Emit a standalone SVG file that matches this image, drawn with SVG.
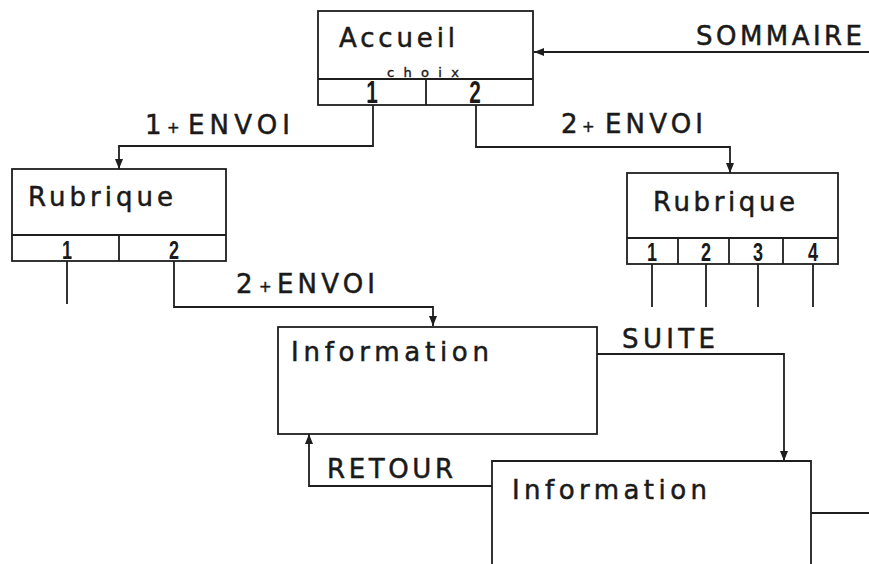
<svg xmlns="http://www.w3.org/2000/svg" width="869" height="564" viewBox="0 0 869 564">
<style>
.box{fill:none;stroke:#1e1e1e;stroke-width:1.8}
.ln{fill:none;stroke:#1e1e1e;stroke-width:1.8}
.t{font-family:"DejaVu Sans","Liberation Sans",sans-serif;font-size:26px;fill:#1a1a1a;stroke:#1a1a1a;stroke-width:0.5}
.d{font-family:"Liberation Sans",Arial,sans-serif;font-weight:bold;fill:#1a1a1a;text-anchor:middle}
.s{font-family:"DejaVu Sans","Liberation Sans",sans-serif;font-size:13px;fill:#1a1a1a;stroke:#1a1a1a;stroke-width:0.4}
.p{font-size:15px}
</style>
<defs>
<marker id="ah" markerUnits="userSpaceOnUse" markerWidth="10" markerHeight="8" refX="10" refY="4" orient="auto">
<path d="M0,0 L10,4 L0,8 z" fill="#1e1e1e"/>
</marker>
</defs>
<rect width="869" height="564" fill="#ffffff"/>

<g id="connectors">
<path class="ln" d="M869,52 H534" marker-end="url(#ah)"/>
<path class="ln" d="M373,105 V146 H119 V169" marker-end="url(#ah)"/>
<path class="ln" d="M476,105 V147 H730 V173" marker-end="url(#ah)"/>
<path class="ln" d="M67,261 V304"/>
<path class="ln" d="M174,261 V307 H433 V326" marker-end="url(#ah)"/>
<path class="ln" d="M652,264 V307 M706,264 V307 M758,264 V307 M813,264 V307"/>
<path class="ln" d="M597,354 H784 V461" marker-end="url(#ah)"/>
<path class="ln" d="M492,486 H309 V434" marker-end="url(#ah)"/>
<path class="ln" d="M811,513 H869"/>
<text class="t" x="696" y="45" textLength="166" lengthAdjust="spacing">SOMMAIRE</text>
<text class="t" x="145" y="134"><tspan>1</tspan><tspan class="p" x="167" y="133">+</tspan><tspan x="188" y="134" textLength="102" lengthAdjust="spacing">ENVOI</tspan></text>
<text class="t" x="561" y="133"><tspan>2</tspan><tspan class="p" x="582" y="132">+</tspan><tspan x="605" y="133" textLength="98" lengthAdjust="spacing">ENVOI</tspan></text>
<text class="t" x="236" y="293"><tspan>2</tspan><tspan class="p" x="259" y="292">+</tspan><tspan x="277" y="293" textLength="98" lengthAdjust="spacing">ENVOI</tspan></text>
<text class="t" x="622" y="348" textLength="93" lengthAdjust="spacing">SUITE</text>
<text class="t" x="327" y="478" textLength="126" lengthAdjust="spacing">RETOUR</text>
</g>

<g id="accueil">
<rect class="box" x="318" y="11" width="215" height="94"/>
<path class="ln" d="M318,79 H533 M426,79 V105"/>
<text class="t" x="339" y="47" textLength="116" lengthAdjust="spacing">Accueil</text>
<text class="s" x="387" y="77" textLength="72" lengthAdjust="spacing">choix</text>
<text class="d" transform="translate(372,103) scale(0.65,1)" font-size="32">1</text>
<text class="d" transform="translate(475,103) scale(0.65,1)" font-size="32">2</text>
</g>

<g id="rubrique-left">
<rect class="box" x="12" y="169" width="214" height="92"/>
<path class="ln" d="M12,235 H226 M119,235 V261"/>
<text class="t" x="28" y="206" textLength="145" lengthAdjust="spacing">Rubrique</text>
<text class="d" transform="translate(67,259) scale(0.72,1)" font-size="25">1</text>
<text class="d" transform="translate(174,259) scale(0.72,1)" font-size="25">2</text>
</g>

<g id="rubrique-right">
<rect class="box" x="627" y="173" width="211" height="91"/>
<path class="ln" d="M627,238 H838 M678,238 V264 M729,238 V264 M783,238 V264"/>
<text class="t" x="653" y="211" textLength="142" lengthAdjust="spacing">Rubrique</text>
<text class="d" transform="translate(652,261) scale(0.72,1)" font-size="25">1</text>
<text class="d" transform="translate(706,261) scale(0.72,1)" font-size="25">2</text>
<text class="d" transform="translate(758,261) scale(0.72,1)" font-size="25">3</text>
<text class="d" transform="translate(813,261) scale(0.72,1)" font-size="25">4</text>
</g>

<g id="information-1">
<rect class="box" x="278" y="327" width="319" height="107"/>
<text class="t" x="291" y="361" textLength="198" lengthAdjust="spacing">Information</text>
</g>

<g id="information-2">
<path class="box" d="M492,570 V461 H811 V570"/>
<text class="t" x="512" y="499" textLength="195" lengthAdjust="spacing">Information</text>
</g>
</svg>
